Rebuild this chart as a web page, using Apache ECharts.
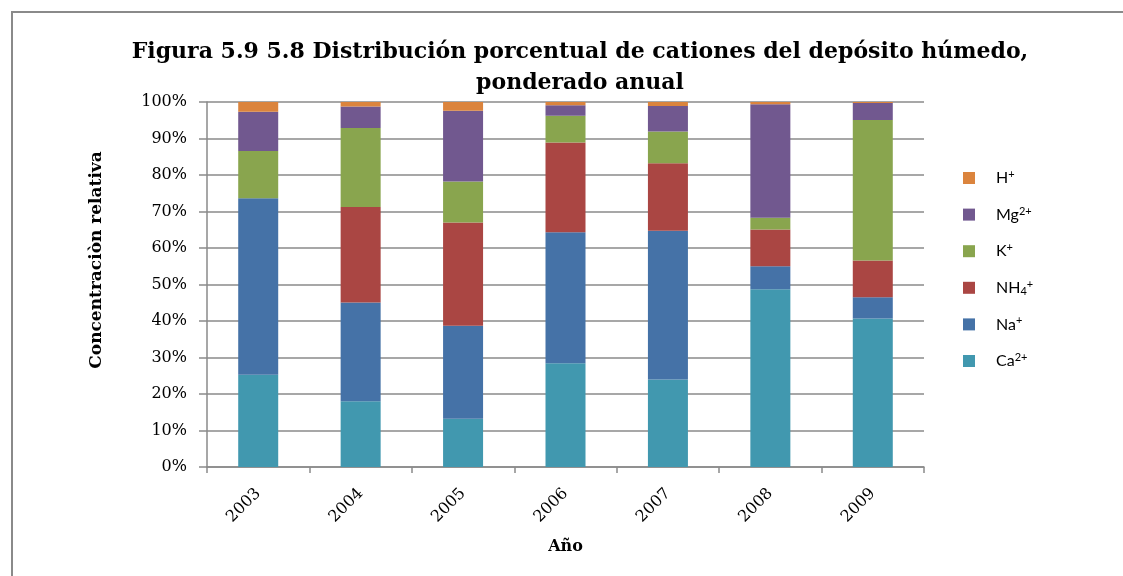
<!DOCTYPE html>
<html>
<head>
<meta charset="utf-8">
<script src="https://cdn.jsdelivr.net/npm/echarts@6/dist/echarts.min.js"></script>
<style>
  html, body { margin: 0; padding: 0; background: #fff; }
  #chart { width: 1123px; height: 576px; }
</style>
</head>
<body>
<div id="chart"></div>
<script>
// años y porcentajes por catión
const years = ['2003', '2004', '2005', '2006', '2007', '2008', '2009'];
const ca  = [25.3, 18.0, 13.2, 28.4, 24.0, 48.7, 40.7];
const na  = [48.3, 27.1, 25.5, 35.9, 40.7, 6.3, 5.8];
const nh4 = [0, 26.1, 28.3, 24.6, 18.5, 10.1, 10.1];
const k   = [13.0, 21.7, 11.2, 7.3, 8.7, 3.2, 38.5];
const mg  = [10.7, 5.9, 19.4, 2.9, 7.0, 31.1, 4.6];
const h   = [2.7, 1.2, 2.4, 0.9, 1.1, 0.6, 0.3];

const serif = '"DejaVu Serif", "Liberation Serif", serif';
const sans = 'Lato, "Open Sans", sans-serif';

// etiquetas de leyenda con super/subíndices
const legendLabels = {
    'H+': 'H{sup|+}',
    'Mg2+': 'Mg{sup|2+}',
    'K+': 'K{sup|+}',
    'NH4+': 'NH{sub|4}{sup|+}',
    'Na+': 'Na{sup|+}',
    'Ca2+': 'Ca{sup|2+}'
};

const chartDom = document.getElementById('chart');
const chart = echarts.init(chartDom);

function bar(name, data, color) {
    return {
        name: name,
        type: 'bar',
        stack: 'total',
        barWidth: 40,
        data: data,
        itemStyle: { color: color },
        emphasis: { disabled: true }
    };
}

chart.setOption({
    animation: false,
    backgroundColor: '#fff',
    graphic: [
        {
            type: 'rect',
            shape: { x: 12, y: 12, width: 1200, height: 700 },
            style: { fill: 'none', stroke: '#8a8a8a', lineWidth: 2 },
            silent: true
        },
        {
            type: 'text',
            x: 580, y: 52,
            style: {
                text: 'Figura 5.9 5.8 Distribución porcentual de cationes del depósito húmedo,',
                font: 'bold 22px ' + serif,
                fill: '#000',
                textAlign: 'center',
                textVerticalAlign: 'middle'
            }
        },
        {
            type: 'text',
            x: 580, y: 83,
            style: {
                text: 'ponderado anual',
                font: 'bold 22px ' + serif,
                fill: '#000',
                textAlign: 'center',
                textVerticalAlign: 'middle'
            }
        },
        {
            type: 'text',
            x: 97, y: 260,
            rotation: Math.PI / 2,
            style: {
                text: 'Concentraciòn relativa',
                font: 'bold 17px ' + serif,
                fill: '#000',
                textAlign: 'center',
                textVerticalAlign: 'middle'
            }
        }
    ],
    legend: {
        orient: 'vertical',
        left: 958,
        top: 164,
        icon: 'rect',
        itemWidth: 12,
        itemHeight: 12,
        itemGap: 18.6,
        data: ['H+', 'Mg2+', 'K+', 'NH4+', 'Na+', 'Ca2+'],
        formatter: function (name) { return legendLabels[name]; },
        textStyle: {
            fontFamily: sans,
            fontSize: 16,
            lineHeight: 18,
            color: '#000',
            padding: [0, 0, 0, 16],
            rich: {
                sup: { fontFamily: sans, fontSize: 11, lineHeight: 11, verticalAlign: 'top', color: '#000' },
                sub: { fontFamily: sans, fontSize: 11, lineHeight: 11, verticalAlign: 'bottom', color: '#000' }
            }
        },
        selectedMode: false
    },
    grid: {
        left: 207,
        top: 102,
        width: 717,
        height: 365,
        containLabel: false
    },
    xAxis: {
        type: 'category',
        data: years,
        name: 'Año',
        nameLocation: 'middle',
        nameGap: 72,
        nameTextStyle: { fontFamily: serif, fontWeight: 'bold', fontSize: 16, color: '#000' },
        axisLine: { lineStyle: { color: '#8a8a8a', width: 1.5 } },
        axisTick: { show: true, length: 6, lineStyle: { color: '#8a8a8a', width: 1.5 } },
        axisLabel: { rotate: 45, margin: 24, fontFamily: serif, fontSize: 16, color: '#000' }
    },
    yAxis: {
        type: 'value',
        min: 0,
        max: 100,
        interval: 10,
        axisLine: { show: true, lineStyle: { color: '#8a8a8a', width: 1.5 } },
        axisTick: { show: true, length: 8, lineStyle: { color: '#8a8a8a', width: 1.5 } },
        axisLabel: { formatter: '{value}%', margin: 20, fontFamily: serif, fontSize: 16, color: '#000' },
        splitLine: { lineStyle: { color: '#8a8a8a', width: 1.5 } }
    },
    series: [
        bar('Ca2+', ca, '#4198af'),
        bar('Na+', na, '#4572a7'),
        bar('NH4+', nh4, '#aa4643'),
        bar('K+', k, '#89a54e'),
        bar('Mg2+', mg, '#71588f'),
        bar('H+', h, '#db843d')
    ]
});
</script>
</body>
</html>
